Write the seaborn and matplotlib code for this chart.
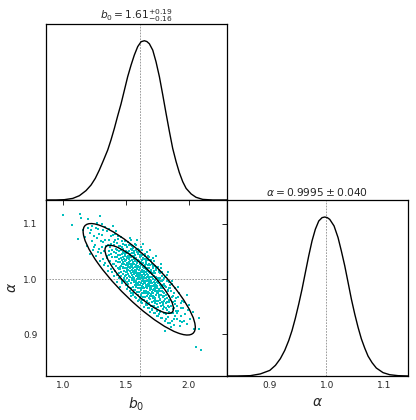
import numpy as np
import pandas as pd
import seaborn as sns
import matplotlib.pyplot as plt
from matplotlib.patches import Ellipse

# posterior samples (b0, alpha)
samples = [
    (1.000, 1.116), (1.133, 1.117), (1.141, 1.110), (1.200, 1.108), (1.293, 1.113),
    (1.072, 1.098), (1.120, 1.072), (1.173, 1.075), (1.186, 1.060), (1.213, 1.045),
    (1.226, 1.069), (1.248, 1.078), (1.280, 1.090), (1.333, 1.093), (1.399, 1.096),
    (1.159, 1.088), (1.194, 1.092), (1.236, 1.052), (1.219, 1.088),
    (1.256, 1.062), (1.262, 1.041), (1.268, 1.074), (1.284, 1.055), (1.291, 1.033), (1.297, 1.068),
    (1.302, 1.047), (1.306, 1.080), (1.311, 1.058), (1.315, 1.036), (1.319, 1.066),
    (1.324, 1.050), (1.329, 1.071), (1.336, 1.029), (1.341, 1.060), (1.347, 1.042),
    (1.352, 1.038), (1.355, 1.061), (1.358, 1.024), (1.362, 1.050), (1.365, 1.071),
    (1.368, 1.043), (1.371, 1.032), (1.374, 1.057), (1.378, 1.046), (1.381, 1.018),
    (1.384, 1.064), (1.388, 1.040), (1.391, 1.053), (1.395, 1.027), (1.398, 1.080),
    (1.258, 1.092), (1.271, 1.101), (1.287, 1.082), (1.305, 1.100), (1.318, 1.088),
    (1.345, 1.087), (1.362, 1.090), (1.377, 1.078), (1.389, 1.012), (1.356, 1.015),
    (1.322, 1.025), (1.276, 1.048), (1.248, 1.058), (1.232, 1.096), (1.209, 1.083),
    (1.402, 1.049), (1.404, 1.028), (1.407, 1.061), (1.409, 1.040), (1.411, 1.014),
    (1.414, 1.071), (1.416, 1.033), (1.418, 1.047), (1.421, 1.024), (1.423, 1.055),
    (1.425, 1.008), (1.428, 1.039), (1.430, 1.065), (1.432, 1.019), (1.435, 1.043),
    (1.437, 1.030), (1.440, 1.051), (1.442, 1.001), (1.444, 1.036), (1.446, 1.059),
    (1.448, 1.022), (1.433, 1.078), (1.419, 1.086),
    (1.403, 1.005), (1.412, 1.082), (1.426, 0.995), (1.438, 1.072), (1.447, 1.010),
    (1.408, 1.066), (1.429, 1.052), (1.441, 1.018),
    (1.451, 1.044), (1.452, 1.018), (1.454, 1.060), (1.455, 1.031), (1.457, 1.005),
    (1.458, 1.038), (1.460, 1.024), (1.461, 1.052), (1.463, 1.012), (1.464, 1.035),
    (1.466, 0.996), (1.467, 1.046), (1.469, 1.027), (1.470, 1.068), (1.472, 1.019),
    (1.473, 1.040), (1.475, 1.009), (1.476, 1.030), (1.478, 1.055), (1.479, 1.022),
    (1.481, 1.036), (1.482, 0.999), (1.484, 1.047), (1.485, 1.015), (1.487, 1.028),
    (1.488, 1.061), (1.490, 1.006), (1.491, 1.033), (1.493, 1.020), (1.494, 1.042),
    (1.496, 0.990), (1.497, 1.025), (1.498, 1.050), (1.499, 1.012),
    (1.453, 0.985), (1.459, 1.075), (1.465, 1.057), (1.471, 0.993), (1.477, 1.063),
    (1.483, 1.001), (1.489, 1.044), (1.495, 1.069), (1.462, 1.013), (1.486, 1.037),
    (1.474, 1.049), (1.492, 0.997),
    (1.501, 1.034), (1.502, 1.008), (1.503, 1.047), (1.504, 1.020), (1.505, 0.995),
    (1.507, 1.029), (1.508, 1.058), (1.509, 1.013), (1.510, 1.038), (1.511, 1.002),
    (1.512, 1.024), (1.514, 1.066), (1.515, 1.017), (1.516, 0.986), (1.517, 1.041),
    (1.518, 1.009), (1.520, 1.030), (1.521, 1.051), (1.522, 0.998), (1.523, 1.021),
    (1.524, 1.036), (1.526, 1.005), (1.527, 1.027), (1.528, 1.074), (1.529, 1.014),
    (1.530, 0.979), (1.532, 1.043), (1.533, 1.019), (1.534, 1.003), (1.535, 1.032),
    (1.536, 1.055), (1.538, 0.992), (1.539, 1.024), (1.540, 1.011), (1.541, 1.039),
    (1.542, 0.969), (1.544, 1.016), (1.545, 1.047), (1.546, 1.001), (1.547, 1.028),
    (1.548, 1.008), (1.549, 1.035), (1.543, 1.062), (1.537, 0.983),
    (1.502, 1.061), (1.506, 0.982), (1.513, 1.049), (1.519, 0.991), (1.525, 1.062),
    (1.531, 1.028), (1.537, 1.070), (1.543, 0.975), (1.548, 1.052), (1.504, 1.039),
    (1.516, 1.026), (1.527, 0.996), (1.534, 1.046), (1.546, 1.021), (1.511, 1.016),
    (1.522, 1.040),
    (1.550, 1.025), (1.551, 0.999), (1.552, 1.041), (1.553, 1.012), (1.554, 0.986),
    (1.555, 1.030), (1.556, 1.056), (1.557, 1.004), (1.558, 1.019), (1.559, 0.975),
    (1.560, 1.036), (1.561, 1.009), (1.562, 0.994), (1.563, 1.047), (1.564, 1.015),
    (1.565, 1.027), (1.566, 0.981), (1.567, 1.002), (1.568, 1.064), (1.569, 1.021),
    (1.570, 0.990), (1.571, 1.033), (1.572, 1.010), (1.573, 0.968), (1.574, 1.043),
    (1.575, 1.017), (1.576, 0.997), (1.577, 1.026), (1.578, 1.052), (1.579, 1.006),
    (1.580, 0.985), (1.581, 1.014), (1.582, 1.038), (1.583, 0.995), (1.584, 1.022),
    (1.585, 0.977), (1.586, 1.008), (1.587, 1.031), (1.588, 1.000), (1.589, 1.071),
    (1.590, 1.018), (1.591, 0.989), (1.592, 1.045), (1.593, 1.004), (1.594, 0.960),
    (1.595, 1.024), (1.596, 1.011), (1.597, 0.993), (1.598, 1.035), (1.599, 1.002),
    (1.551, 1.060), (1.556, 0.971), (1.561, 1.050), (1.566, 1.039), (1.571, 0.980),
    (1.576, 1.061), (1.581, 0.966), (1.586, 1.048), (1.591, 1.029), (1.596, 0.972),
    (1.553, 1.015), (1.563, 0.998), (1.573, 1.022), (1.583, 1.010), (1.593, 0.983),
    (1.558, 1.031), (1.578, 0.992), (1.598, 1.055),
    (1.600, 1.016), (1.601, 0.989), (1.602, 1.032), (1.603, 1.004), (1.604, 0.976),
    (1.605, 1.022), (1.606, 1.048), (1.607, 0.995), (1.608, 1.010), (1.609, 0.965),
    (1.610, 1.028), (1.611, 1.000), (1.612, 0.984), (1.613, 1.039), (1.614, 1.007),
    (1.615, 1.019), (1.616, 0.971), (1.617, 0.993), (1.618, 1.058), (1.619, 1.013),
    (1.620, 0.980), (1.621, 1.025), (1.622, 1.001), (1.623, 0.958), (1.624, 1.035),
    (1.625, 1.008), (1.626, 0.987), (1.627, 1.017), (1.628, 1.044), (1.629, 0.997),
    (1.630, 0.975), (1.631, 1.005), (1.632, 1.029), (1.633, 0.985), (1.634, 1.012),
    (1.635, 0.967), (1.636, 0.998), (1.637, 1.022), (1.638, 0.991), (1.639, 1.063),
    (1.640, 1.009), (1.641, 0.979), (1.642, 1.036), (1.643, 0.994), (1.644, 0.950),
    (1.645, 1.014), (1.646, 1.002), (1.647, 0.983), (1.648, 1.026), (1.649, 0.992),
    (1.604, 1.000), (1.616, 1.041), (1.628, 0.962), (1.642, 1.004),
    (1.601, 1.052), (1.606, 0.963), (1.611, 1.043), (1.616, 1.030), (1.621, 0.970),
    (1.626, 1.052), (1.631, 0.957), (1.636, 1.038), (1.641, 1.020), (1.646, 0.962),
    (1.603, 1.007), (1.613, 0.989), (1.623, 1.013), (1.633, 1.001), (1.643, 0.974),
    (1.608, 1.022), (1.628, 0.983), (1.648, 1.045),
    (1.650, 1.007), (1.651, 0.979), (1.652, 1.021), (1.653, 0.995), (1.654, 0.967),
    (1.655, 1.012), (1.656, 1.037), (1.657, 0.986), (1.658, 1.001), (1.659, 0.955),
    (1.660, 1.018), (1.661, 0.990), (1.662, 0.974), (1.663, 1.030), (1.664, 0.997),
    (1.665, 1.009), (1.666, 0.961), (1.667, 0.983), (1.668, 1.049), (1.669, 1.003),
    (1.670, 0.970), (1.671, 1.015), (1.672, 0.991), (1.673, 0.948), (1.674, 1.025),
    (1.675, 0.998), (1.676, 0.977), (1.677, 1.007), (1.678, 1.034), (1.679, 0.987),
    (1.680, 0.965), (1.681, 0.995), (1.682, 1.019), (1.683, 0.975), (1.684, 1.002),
    (1.685, 0.957), (1.686, 0.988), (1.687, 1.012), (1.688, 0.981), (1.689, 1.052),
    (1.690, 0.999), (1.691, 0.969), (1.692, 1.026), (1.693, 0.984), (1.694, 0.941),
    (1.695, 1.004), (1.696, 0.992), (1.697, 0.973), (1.698, 1.016), (1.699, 0.982),
    (1.657, 1.028), (1.671, 0.953), (1.686, 1.040),
    (1.651, 1.042), (1.656, 0.953), (1.661, 1.033), (1.666, 1.020), (1.671, 0.960),
    (1.676, 1.042), (1.681, 0.947), (1.686, 1.028), (1.691, 1.010), (1.696, 0.952),
    (1.653, 0.997), (1.663, 0.979), (1.673, 1.003), (1.683, 0.991), (1.693, 0.964),
    (1.658, 1.012), (1.678, 0.973), (1.698, 1.035),
    (1.700, 0.997), (1.701, 0.970), (1.702, 1.012), (1.703, 0.985), (1.704, 0.958),
    (1.705, 1.003), (1.706, 1.027), (1.707, 0.977), (1.708, 0.992), (1.709, 0.946),
    (1.710, 1.009), (1.711, 0.981), (1.712, 0.965), (1.713, 1.020), (1.714, 0.988),
    (1.715, 1.000), (1.716, 0.952), (1.717, 0.974), (1.718, 1.038), (1.719, 0.994),
    (1.720, 0.961), (1.721, 1.006), (1.722, 0.982), (1.723, 0.939), (1.724, 1.015),
    (1.725, 0.989), (1.726, 0.968), (1.727, 0.998), (1.728, 1.024), (1.729, 0.978),
    (1.730, 0.956), (1.731, 0.986), (1.732, 1.010), (1.733, 0.966), (1.734, 0.993),
    (1.735, 0.948), (1.736, 0.979), (1.737, 1.003), (1.738, 0.972), (1.739, 1.041),
    (1.740, 0.990), (1.741, 0.960), (1.742, 1.017), (1.743, 0.975), (1.744, 0.933),
    (1.745, 0.995), (1.746, 0.983),
    (1.701, 1.032), (1.706, 0.944), (1.711, 1.023), (1.716, 1.011), (1.721, 0.951),
    (1.726, 1.033), (1.731, 0.938), (1.736, 1.019), (1.741, 1.001), (1.746, 0.943),
    (1.703, 0.988), (1.713, 0.970), (1.723, 0.994), (1.733, 0.982), (1.743, 0.955),
    (1.708, 1.003), (1.728, 0.964),
    (1.750, 0.987), (1.752, 0.961), (1.753, 1.002), (1.754, 0.975), (1.756, 0.949),
    (1.757, 0.993), (1.759, 1.016), (1.760, 0.968), (1.761, 0.982), (1.763, 0.937),
    (1.764, 0.999), (1.765, 0.971), (1.767, 0.956), (1.768, 1.010), (1.770, 0.978),
    (1.771, 0.990), (1.772, 0.943), (1.774, 0.964), (1.775, 1.027), (1.777, 0.984),
    (1.778, 0.952), (1.779, 0.996), (1.781, 0.972), (1.782, 0.930), (1.784, 1.005),
    (1.785, 0.979), (1.787, 0.958), (1.788, 0.988), (1.789, 1.013), (1.791, 0.968),
    (1.792, 0.946), (1.794, 0.976), (1.795, 0.999), (1.796, 0.957), (1.798, 0.983),
    (1.799, 0.938), (1.797, 0.969),
    (1.751, 1.022), (1.756, 0.934), (1.762, 1.013), (1.767, 1.001), (1.773, 0.941),
    (1.778, 1.020), (1.784, 0.929), (1.789, 0.996), (1.794, 0.989), (1.799, 0.960),
    (1.758, 0.978), (1.769, 0.962), (1.780, 0.986), (1.791, 0.953),
    (1.801, 0.975), (1.803, 0.950), (1.805, 0.991), (1.807, 0.964), (1.809, 0.938),
    (1.811, 0.907), (1.813, 1.004), (1.815, 0.957), (1.817, 0.971), (1.819, 0.927),
    (1.821, 0.985), (1.823, 0.959), (1.826, 0.944), (1.828, 0.996), (1.830, 0.966),
    (1.832, 0.978), (1.834, 0.932), (1.836, 0.952), (1.838, 1.012), (1.840, 0.970),
    (1.842, 0.941), (1.844, 0.983), (1.846, 0.958), (1.848, 0.921), (1.849, 0.990),
    (1.802, 1.001), (1.808, 0.925), (1.814, 0.988), (1.820, 0.947), (1.827, 1.007),
    (1.833, 0.921), (1.839, 0.963), (1.845, 0.995), (1.806, 0.969), (1.818, 0.936),
    (1.831, 0.981), (1.843, 0.949),
    (1.852, 0.962), (1.855, 0.938), (1.858, 0.979), (1.861, 0.951), (1.864, 0.925),
    (1.867, 0.968), (1.870, 0.991), (1.873, 0.945), (1.876, 0.958), (1.879, 0.917),
    (1.882, 0.974), (1.885, 0.947), (1.888, 0.933), (1.891, 0.984), (1.894, 0.955),
    (1.897, 0.966),
    (1.853, 0.983), (1.860, 0.913), (1.866, 0.997), (1.872, 0.939), (1.878, 0.970),
    (1.884, 0.927), (1.890, 0.960), (1.896, 0.942),
    (1.903, 0.952), (1.908, 0.928), (1.913, 0.967), (1.918, 0.943), (1.924, 0.975),
    (1.931, 0.915), (1.936, 0.956), (1.941, 0.934), (1.946, 0.961), (1.949, 0.922),
    (1.905, 0.938), (1.915, 0.986), (1.927, 0.925), (1.938, 0.947),
    (1.953, 0.947), (1.960, 0.925), (1.966, 0.958), (1.972, 0.936), (1.984, 0.972),
    (1.990, 0.918), (1.996, 0.944),
    (2.005, 0.953), (2.012, 0.927), (2.030, 0.940), (2.045, 0.909),
    (2.058, 0.878), (2.080, 0.930), (2.080, 0.910), (2.100, 0.872),
]

# marginal of b0 (curve, peak normalised to 1)
b0_grid = [0.862, 0.942, 1.008, 1.075, 1.128, 1.181, 1.221, 1.255, 1.287, 1.319,
           1.354, 1.380, 1.407, 1.433, 1.460, 1.487, 1.513, 1.540, 1.566, 1.593,
           1.620, 1.646, 1.666, 1.686, 1.713, 1.739, 1.766, 1.793, 1.819, 1.846,
           1.872, 1.899, 1.925, 1.952, 1.979, 2.019, 2.058, 2.111, 2.191, 2.305]
b0_pdf = [0.000, 0.000, 0.002, 0.010, 0.027, 0.059, 0.094, 0.136, 0.188, 0.247,
          0.314, 0.377, 0.450, 0.527, 0.603, 0.690, 0.774, 0.847, 0.910, 0.963,
          0.994, 1.000, 0.995, 0.981, 0.941, 0.868, 0.774, 0.659, 0.544, 0.429,
          0.324, 0.241, 0.172, 0.115, 0.073, 0.038, 0.017, 0.004, 0.000, 0.000]

# marginal of alpha
alpha_grid = [0.825, 0.8426, 0.866, 0.8835, 0.900, 0.910, 0.9186, 0.9263, 0.9333,
              0.9391, 0.9449, 0.9509, 0.9567, 0.9625, 0.9684, 0.9742, 0.980, 0.986,
              0.9918, 0.9965, 1.0010, 1.0053, 1.0128, 1.0198, 1.0256, 1.0316, 1.0374,
              1.0432, 1.0491, 1.0549, 1.0607, 1.0667, 1.0725, 1.0795, 1.087, 1.0988,
              1.1105, 1.1251, 1.1426]
alpha_pdf = [0.000, 0.000, 0.002, 0.013, 0.035, 0.067, 0.109, 0.161, 0.223,
             0.286, 0.363, 0.453, 0.547, 0.651, 0.756, 0.850, 0.923, 0.975,
             0.996, 1.000, 0.996, 0.985, 0.944, 0.871, 0.787, 0.693, 0.589,
             0.484, 0.390, 0.307, 0.234, 0.175, 0.125, 0.084, 0.050, 0.021,
             0.008, 0.002, 0.000]

# fisher-like contour: centre, sigmas, correlation, delta chi2 levels
centre = (1.605, 0.9995)
sig_b0, sig_alpha, rho = 0.180, 0.0405, -0.86
levels = [2.30, 6.17]

b0_best, alpha_best = 1.61, 0.9995

df = pd.DataFrame(samples, columns=["b0", "alpha"])

sns.set_style("white")
plt.rcParams["xtick.direction"] = "in"
plt.rcParams["ytick.direction"] = "in"

fig = plt.figure(figsize=(4.16, 4.2), dpi=100)
ax_top = fig.add_axes([0.1106, 0.5238, 0.4351, 0.4190])
ax_2d = fig.add_axes([0.1106, 0.1048, 0.4351, 0.4190])
ax_rt = fig.add_axes([0.5457, 0.1048, 0.4351, 0.4190])

b0_lim = (0.862, 2.305)
alpha_lim = (0.825, 1.1426)
ref = dict(color="0.55", lw=0.6, ls=(0, (2, 1.5)), zorder=0)

# top: b0 marginal
sns.lineplot(x=b0_grid, y=b0_pdf, ax=ax_top, color="k", lw=1.0, estimator=None)
ax_top.axvline(b0_best, **ref)
ax_top.set_xlim(b0_lim)
ax_top.set_ylim(0, 1.105)
ax_top.set_xticks([1.0, 1.5, 2.0])
ax_top.set_xticklabels([])
ax_top.set_yticks([])
ax_top.set_title(r"$b_0 = 1.61^{+0.19}_{-0.16}$", fontsize=7.7, pad=3)

# bottom left: samples + contours
sns.scatterplot(data=df, x="b0", y="alpha", ax=ax_2d, color="c", s=4,
                marker="s", linewidth=0, zorder=2)
cov = np.array([[sig_b0 ** 2, rho * sig_b0 * sig_alpha],
                [rho * sig_b0 * sig_alpha, sig_alpha ** 2]])
vals, vecs = np.linalg.eigh(cov)
ang = np.degrees(np.arctan2(vecs[1, 1], vecs[0, 1]))
for lv in levels:
    ax_2d.add_patch(Ellipse(centre, 2 * np.sqrt(lv * vals[1]), 2 * np.sqrt(lv * vals[0]),
                            angle=ang, fill=False, ec="k", lw=1.0, zorder=3))
ax_2d.axvline(b0_best, **ref)
ax_2d.axhline(alpha_best, **ref)
ax_2d.set_xlim(b0_lim)
ax_2d.set_ylim(alpha_lim)
ax_2d.set_xticks([1.0, 1.5, 2.0])
ax_2d.set_yticks([0.9, 1.0, 1.1])
ax_2d.tick_params(top=True, right=True, labelsize=6.5, length=3.5, width=0.7)
ax_2d.tick_params(axis="y", pad=6)
ax_2d.set_xlabel(r"$b_0$", fontsize=10, labelpad=4)
ax_2d.set_ylabel(r"$\alpha$", fontsize=10, labelpad=3)

# bottom right: alpha marginal
sns.lineplot(x=alpha_grid, y=alpha_pdf, ax=ax_rt, color="k", lw=1.0, estimator=None)
ax_rt.axvline(alpha_best, **ref)
ax_rt.set_xlim(alpha_lim)
ax_rt.set_ylim(0, 1.107)
ax_rt.set_xticks([0.9, 1.0, 1.1])
ax_rt.set_yticks([])
ax_rt.tick_params(labelsize=6.5, length=3.5, width=0.7)
ax_rt.set_xlabel(r"$\alpha$", fontsize=10, labelpad=4)
ax_rt.set_title(r"$\alpha = 0.9995 \pm 0.040$", fontsize=7.7, pad=3)

ax_top.tick_params(length=3.5, width=0.7)

for ax in (ax_top, ax_2d, ax_rt):
    for sp in ax.spines.values():
        sp.set_color("k")
        sp.set_linewidth(0.9)

fig.savefig("out.png", dpi=100)
